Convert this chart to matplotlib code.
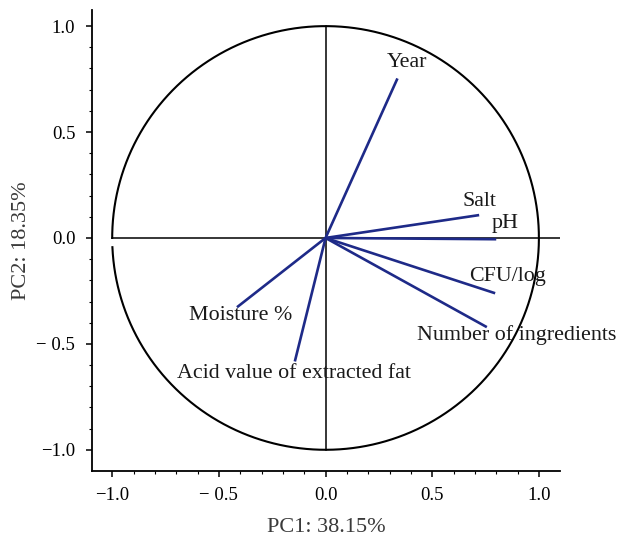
import numpy as np
import matplotlib
matplotlib.use("Agg")
import matplotlib.pyplot as plt

# loadings (PC1, PC2)
variables = ["Year", "Salt", "pH", "CFU/log", "Number of ingredients",
             "Moisture %", "Acid value of extracted fat"]
pc1 = [0.337, 0.72, 0.80, 0.795, 0.756, -0.415, -0.144]
pc2 = [0.753, 0.108, -0.006, -0.261, -0.421, -0.327, -0.583]

# label positions (centre of text) in data units
label_x = [0.384, 0.72, 0.84, 0.855, 0.897, -0.40, -0.148]
label_y = [0.83, 0.171, 0.066, -0.184, -0.458, -0.368, -0.638]

tick_vals = [-1.0, -0.5, 0.0, 0.5, 1.0]
tick_labels = ["\u22121.0", "\u2212 0.5", "0.0", "0.5", "1.0"]

plt.rcParams['font.family'] = ['Liberation Serif', 'DejaVu Serif']

fig = plt.figure(figsize=(6.17, 5.39), dpi=100)
ax = fig.add_axes([0.149, 0.127, 0.759, 0.854])

# unit circle, with the small break just under the left crossing
t = np.radians(np.linspace(-177.5, 180, 600))
ax.plot(np.cos(t), np.sin(t), color="black", lw=1.5)

# reference cross
ax.plot([-1.0, 1.1], [0, 0], color="black", lw=1.1)
ax.plot([0, 0], [-1.0, 1.0], color="black", lw=1.1)

vec_color = "#1e2a88"
for x, y in zip(pc1, pc2):
    ax.plot([0, x], [0, y], color=vec_color, lw=1.9, solid_capstyle="butt")

for name, lx, ly in zip(variables, label_x, label_y):
    ax.text(lx, ly, name, ha="center", va="center", fontsize=15.8, color="#1a1a1a")

ax.set_xlim(-1.095, 1.10)
ax.set_ylim(-1.098, 1.075)
ax.spines['top'].set_visible(False)
ax.spines['right'].set_visible(False)
ax.spines['left'].set_linewidth(1.3)
ax.spines['bottom'].set_linewidth(1.3)

ax.set_xticks(tick_vals)
ax.set_xticklabels(tick_labels)
ax.set_yticks(tick_vals)
ax.set_yticklabels(tick_labels)
ax.set_xticks(np.arange(-1.0, 1.01, 0.1), minor=True)
ax.set_yticks(np.arange(-1.0, 1.01, 0.1), minor=True)
ax.tick_params(which="major", length=4, width=1.1, labelsize=13.5, pad=8)
ax.tick_params(which="minor", length=2, width=0.8)

ax.set_xlabel("PC1: 38.15%", fontsize=16, color="#3a3a3a", labelpad=10)
ax.set_ylabel("PC2: 18.35%", fontsize=16, color="#3a3a3a", labelpad=4)

fig.savefig("out.png", dpi=100)
